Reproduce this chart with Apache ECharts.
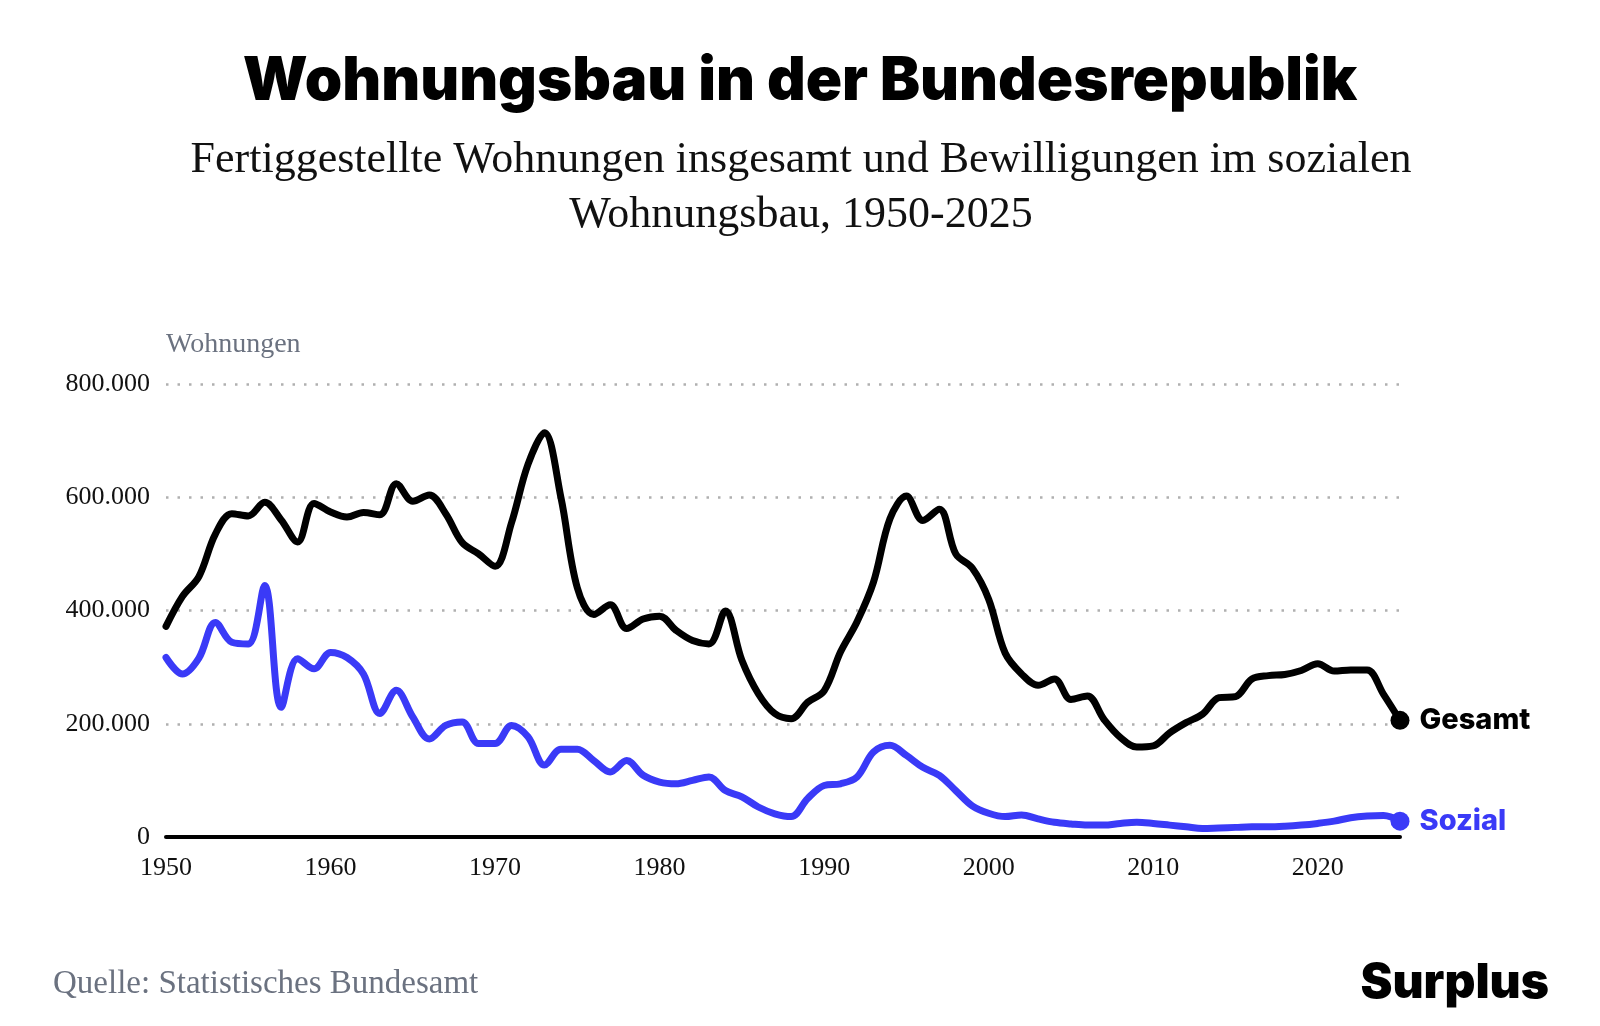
<!DOCTYPE html>
<html>
<head>
<meta charset="utf-8">
<script src="https://cdn.jsdelivr.net/npm/echarts@6/dist/echarts.min.js"></script>
<style>
html,body{margin:0;padding:0;background:#fff;}
#c{width:1600px;height:1026px;}
</style>
</head>
<body>
<div id="c"></div>
<script>
var years = [];
for (var y = 1950; y <= 2025; y++) years.push(y);

var gesamt = [372000,425000,460000,535000,571000,567000,591000,560000,521000,589000,
574000,565000,573000,569000,624000,593000,604000,571000,520000,500000,
478000,555000,658000,714000,600000,440000,393000,410000,368000,385000,
390000,365000,347000,341000,399000,312000,253000,218000,209000,238000,
258000,327000,380000,450000,562000,602000,559000,579000,500000,475000,
420000,325000,288000,268000,279000,243000,249000,208000,176000,159000,
161000,184000,202000,217000,246000,248000,279000,285000,287000,294000,
306000,293000,295000,295000,252000,206000];

var sozial = [317000,288000,316000,379000,344000,341000,444000,229000,315000,297000,
326000,317000,288000,218000,259000,212000,173000,197000,203000,165000,
165000,197000,177000,127000,155000,155000,135000,115000,135000,109000,
97000,94000,100000,106000,82000,71000,53000,41000,36000,68000,
91000,94000,106000,150000,162000,144000,123000,109000,82000,55000,
42000,36000,39000,32000,26000,23000,21000,21000,24000,26000,
24000,21000,18000,15000,16000,17000,18000,18000,19000,21000,
24000,28000,34000,37000,38000,28000];

var yTicks = [0, 200000, 400000, 600000, 800000];
var xTicks = [1950, 1960, 1970, 1980, 1990, 2000, 2010, 2020];

var titleText = 'Wohnungsbau in der Bundesrepublik';
var subtitleLines = ['Fertiggestellte Wohnungen insgesamt und Bewilligungen im sozialen', 'Wohnungsbau, 1950-2025'];
var yAxisTitle = 'Wohnungen';
var sourceText = 'Quelle: Statistisches Bundesamt';
var brandText = 'Surplus';

var BLUE = '#3a3af7';
var SERIF = '"Liberation Serif", "DejaVu Serif", serif';
var SANS = 'Inter, Roboto, "Noto Sans", sans-serif';

function pairs(arr){ return arr.map(function(v,i){ return [years[i], v]; }); }
function fmt(v){ return String(v).replace(/\B(?=(\d{3})+(?!\d))/g, '.'); }

var chart = echarts.init(document.getElementById('c'), null, {renderer:'canvas'});
var last = years.length - 1;

chart.setOption({
  backgroundColor: '#fff',
  animation: false,
  graphic: [
    {type:'text', left:'center', top: 52,
     style:{text: titleText, font: '900 60px ' + SANS, fill:'#000'}},
    {type:'text', x: 801, y: 160,
     style:{text: subtitleLines[0], font: '44px ' + SERIF, fill:'#111', textAlign:'center', textVerticalAlign:'middle'}},
    {type:'text', x: 801, y: 215,
     style:{text: subtitleLines[1], font: '44px ' + SERIF, fill:'#111', textAlign:'center', textVerticalAlign:'middle'}},
    {type:'text', x: 166, y: 345,
     style:{text: yAxisTitle, font: '28px ' + SERIF, fill:'#6b7280', textVerticalAlign:'middle'}},
    {type:'text', x: 53, y: 984,
     style:{text: sourceText, font: '33px ' + SERIF, fill:'#6b7280', textVerticalAlign:'middle'}},
    {type:'text', x: 1549, y: 984,
     style:{text: brandText, font: '900 48px ' + SANS, fill:'#000', textAlign:'right', textVerticalAlign:'middle'}}
  ],
  grid: {left: 166, right: 200, top: 384, bottom: 189, containLabel: false},
  xAxis: {
    type: 'value', min: 1950, max: 2025, interval: 10,
    axisLine: {show: true, onZero: true, lineStyle:{color:'#000', width: 4}},
    axisTick: {show: false},
    splitLine: {show: false},
    axisLabel: {
      showMaxLabel: false,
      color: '#111', fontFamily: SERIF, fontSize: 26, margin: 18,
      formatter: function(v){ return xTicks.indexOf(v) >= 0 ? String(v) : ''; }
    }
  },
  yAxis: {
    type: 'value', min: 0, max: 800000, interval: 200000,
    axisLine: {show:false}, axisTick:{show:false},
    splitLine: {show:true, lineStyle:{color:'#b0b0b0', width: 2.5, type:[2.5,9]}},
    axisLabel: {color:'#111', fontFamily: SERIF, fontSize: 26, margin: 16,
      formatter: function(v){ return yTicks.indexOf(v) >= 0 ? fmt(v) : ''; }}
  },
  series: [
    {name:'Gesamt', type:'line', data: pairs(gesamt), smooth: 0.35, showSymbol:false,
     lineStyle:{color:'#000', width: 7, cap:'round', join:'round'}, z: 3},
    {name:'Sozial', type:'line', data: pairs(sozial), smooth: 0.35, showSymbol:false,
     lineStyle:{color: BLUE, width: 7, cap:'round', join:'round'}, z: 4},
    {name:'GesamtEnd', type:'scatter', data: [[years[last], gesamt[last]]], symbolSize: 19,
     itemStyle:{color:'#000', opacity: 1}, z: 5,
     label:{show:true, position:'right', distance: 10, formatter:'Gesamt',
       fontFamily: SANS, fontWeight: 800, fontSize: 29, color:'#000'}},
    {name:'SozialEnd', type:'scatter', data: [[years[last], sozial[last]]], symbolSize: 19,
     itemStyle:{color: BLUE, opacity: 1}, z: 5,
     label:{show:true, position:'right', distance: 10, formatter:'Sozial',
       fontFamily: SANS, fontWeight: 800, fontSize: 29, color: BLUE}}
  ]
});
</script>
</body>
</html>
